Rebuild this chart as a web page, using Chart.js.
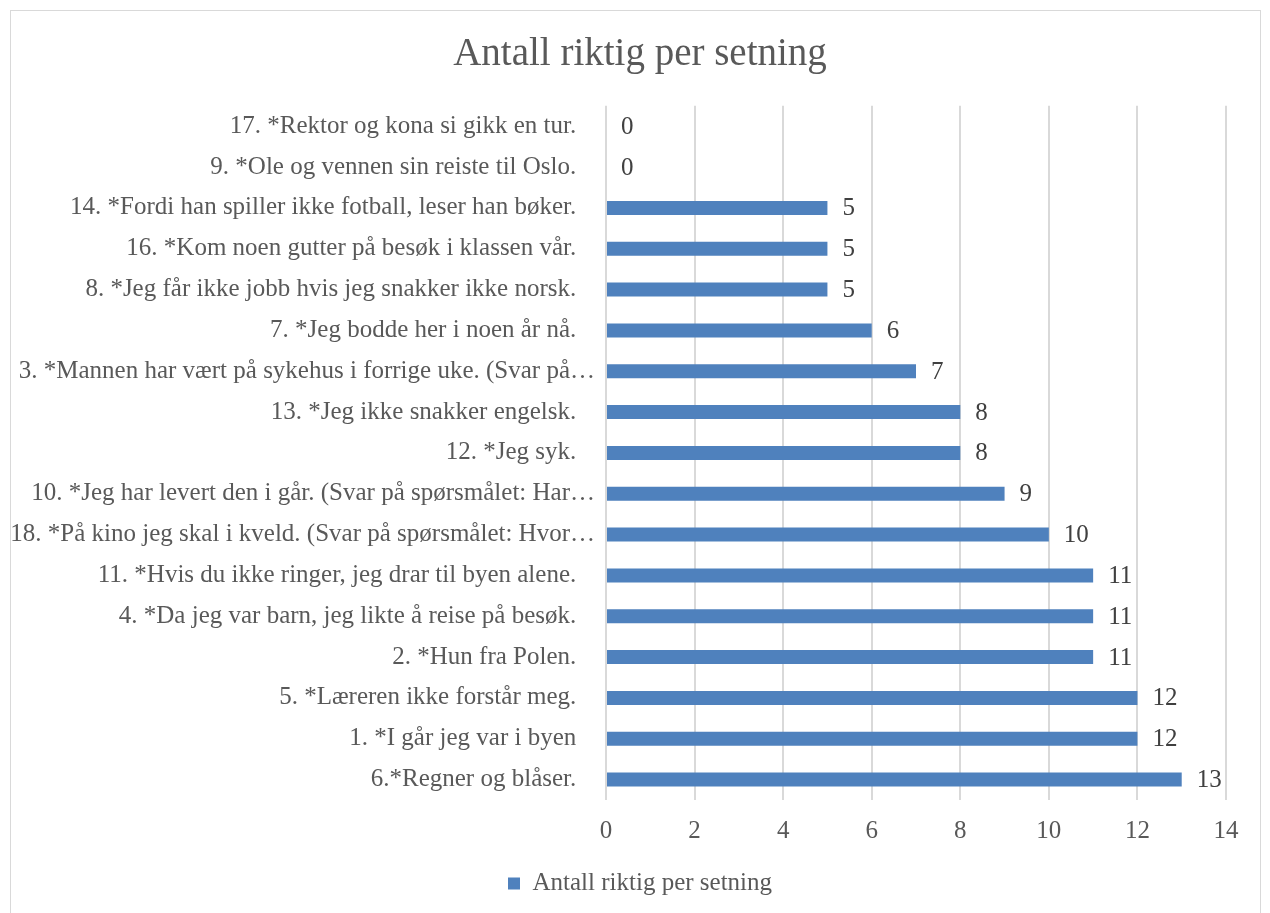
<!DOCTYPE html>
<html>
<head>
<meta charset="utf-8">
<script src="https://cdn.jsdelivr.net/npm/chart.js@4/dist/chart.umd.min.js"></script>
<style>
  body { margin: 0; background: #fff; }
  #wrap { position: relative; width: 1270px; height: 913px; }
  #frame { position: absolute; left: 10px; top: 10px; width: 1249px; height: 910px; border: 1px solid #d9d9d9; pointer-events: none; }
</style>
</head>
<body>
<div id="wrap">
  <canvas id="chart" width="1270" height="913"></canvas>
  <div id="frame"></div>
</div>
<script>
// Sentences, top to bottom as in the chart
var sentences = [
    '17. *Rektor og kona si gikk en tur.',
    '9. *Ole og vennen sin reiste til Oslo.',
    '14. *Fordi han spiller ikke fotball, leser han bøker.',
    '16. *Kom noen gutter på besøk i klassen vår.',
    '8. *Jeg får ikke jobb hvis jeg snakker ikke norsk.',
    '7. *Jeg bodde her i noen år nå.',
    '3. *Mannen har vært på sykehus i forrige uke. (Svar på…',
    '13. *Jeg ikke snakker engelsk.',
    '12. *Jeg syk.',
    '10. *Jeg har levert den i går. (Svar på spørsmålet: Har…',
    '18. *På kino jeg skal i kveld. (Svar på spørsmålet: Hvor…',
    '11. *Hvis du ikke ringer, jeg drar til byen alene.',
    '4. *Da jeg var barn, jeg likte å reise på besøk.',
    '2. *Hun fra Polen.',
    '5. *Læreren ikke forstår meg.',
    '1. *I går jeg var i byen',
    '6.*Regner og blåser.'
];
var correct = [0, 0, 5, 5, 5, 6, 7, 8, 8, 9, 10, 11, 11, 11, 12, 12, 13];
var seriesName = 'Antall riktig per setning';

var font = '"Liberation Serif", "DejaVu Serif", serif';

// value labels at the end of each bar
var valueLabels = {
    id: 'valueLabels',
    afterDatasetsDraw: function (chart) {
        var ctx = chart.ctx;
        var meta = chart.getDatasetMeta(0);
        ctx.save();
        ctx.font = '25px ' + font;
        ctx.fillStyle = '#404040';
        ctx.textAlign = 'left';
        ctx.textBaseline = 'middle';
        meta.data.forEach(function (bar, i) {
            ctx.fillText(String(correct[i]), bar.x + 15, bar.y + 1);
        });
        ctx.restore();
    }
};

// centre title and legend on the whole frame, not only on the padded area
var centreBlocks = {
    id: 'centreBlocks',
    afterLayout: function (chart) {
        if (chart.titleBlock) chart.titleBlock.left = 54;
        if (chart.legend) chart.legend.left = 54;
    }
};

new Chart(document.getElementById('chart'), {
    type: 'bar',
    data: {
        labels: sentences,
        datasets: [{
            label: seriesName,
            data: correct,
            backgroundColor: '#4f81bd',
            barThickness: 14,
            inflateAmount: 0
        }]
    },
    options: {
        indexAxis: 'y',
        responsive: false,
        animation: false,
        layout: { padding: { top: 18, right: 44, bottom: 7, left: 0 } },
        scales: {
            x: {
                min: 0,
                max: 14,
                ticks: { stepSize: 2, color: '#595959', font: { family: font, size: 25 }, padding: 16 },
                grid: { color: '#d9d9d9', lineWidth: 2, drawTicks: false },
                border: { display: false },
                afterFit: function (s) { s.height = 61; }
            },
            y: {
                ticks: {
                    color: '#595959',
                    font: { family: font, size: 25 },
                    padding: 3,
                    autoSkip: false,
                    // untruncated labels sit a little further from the axis
                    callback: function (v, i) {
                        var t = sentences[i];
                        return t.slice(-1) === '…' ? t : t + '   ';
                    }
                },
                grid: { display: false },
                border: { display: false },
                afterFit: function (s) { s.width = 606; }
            }
        },
        plugins: {
            title: {
                display: true,
                text: seriesName,
                color: '#595959',
                font: { family: font, size: 39, weight: 'normal' },
                padding: { top: 13, bottom: 28 }
            },
            legend: {
                position: 'bottom',
                labels: {
                    color: '#595959',
                    font: { family: font, size: 25 },
                    boxWidth: 12,
                    boxHeight: 12
                }
            },
            tooltip: { enabled: false }
        }
    },
    plugins: [valueLabels, centreBlocks]
});
</script>
</body>
</html>
